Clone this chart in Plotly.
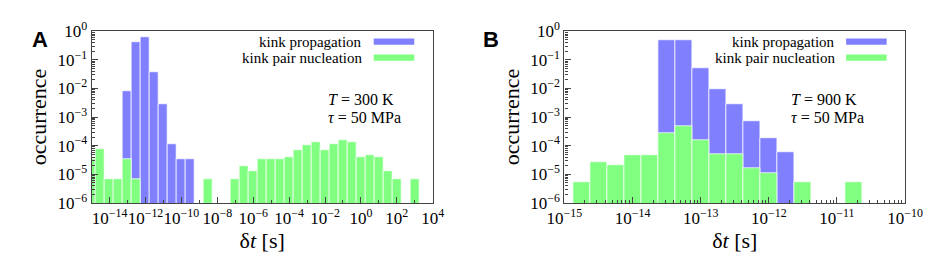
import numpy as np
import plotly.graph_objects as go
from plotly.subplots import make_subplots

# ---------------- data (bin centres given as log10(δt / s)) ----------------
A_kp_logt = [-13, -12.5, -12, -11.5, -11, -10.5, -10, -9.5]
A_kp_occ = [7.8e-3, 0.41, 0.6, 0.038, 2.9e-3, 1.1e-4, 3.3e-5, 3.3e-5]

A_kpn_logt = [-15, -14.5, -14, -13.5, -13, -12.5, -8.5, -7, -6.5, -6, -5.5, -5,
              -4.5, -4, -3.5, -3, -2.5, -2, -1.5, -1, -0.5, 0, 0.5, 1, 1.5, 2, 3]
A_kpn_occ = [3.3e-5, 7.5e-5, 6.6e-6, 6.6e-6, 3.3e-5, 6.6e-6, 6.6e-6, 6.6e-6,
             1.9e-5, 1.3e-5, 3.3e-5, 3.3e-5, 3.3e-5, 4.0e-5, 7.0e-5, 1.07e-4,
             1.3e-4, 7.0e-5, 1.1e-4, 1.5e-4, 1.3e-4, 3.9e-5, 4.6e-5, 3.9e-5,
             1.3e-5, 6.6e-6, 6.6e-6]

B_kp_logt = [-13.5, -13.25, -13, -12.75, -12.5, -12.25, -12, -11.75]
B_kp_occ = [0.5, 0.47, 0.051, 9.4e-3, 2.9e-3, 7.0e-4, 1.8e-4, 6.0e-5]

B_kpn_logt = [-14.75, -14.5, -14.25, -14, -13.75, -13.5, -13.25, -13, -12.75,
              -12.5, -12.25, -12, -11.5, -10.75]
B_kpn_occ = [5.3e-6, 2.7e-5, 2.1e-5, 4.8e-5, 4.8e-5, 2.8e-4, 4.6e-4, 1.6e-4,
             5.0e-5, 5.0e-5, 1.6e-5, 1.07e-5, 5.3e-6, 5.3e-6]

A_binwidth = 0.5
B_binwidth = 0.25

A_xticks = [-14, -12, -10, -8, -6, -4, -2, 0, 2, 4]
B_xticks = [-15, -14, -13, -12, -11, -10]
y_exponents = [0, -1, -2, -3, -4, -5, -6]

series_names = ["kink propagation", "kink pair nucleation"]
panel_notes = [("300 K", "50 MPa"), ("900 K", "50 MPa")]

# ---------------- style ----------------
BLUE = "#8080ff"
GREEN = "#80ff80"
SERIF = "Liberation Serif, Times New Roman, serif"

def sup(e):
    return "10<sup>" + ("\u2212" + str(-e) if e < 0 else str(e)) + "</sup>"

fig = make_subplots(rows=1, cols=2)

panels = [
    (A_kp_logt, A_kp_occ, A_kpn_logt, A_kpn_occ, A_binwidth),
    (B_kp_logt, B_kp_occ, B_kpn_logt, B_kpn_occ, B_binwidth),
]
for i, (kx, ky, nx, ny, w) in enumerate(panels, start=1):
    fig.add_trace(go.Bar(x=kx, y=ky, width=w, name=series_names[0],
                         marker=dict(color=BLUE, line=dict(color="rgba(255,255,255,0.7)", width=1)),
                         showlegend=False), row=1, col=i)
    fig.add_trace(go.Bar(x=nx, y=ny, width=w, name=series_names[1],
                         marker=dict(color=GREEN, line=dict(color="rgba(255,255,255,0.7)", width=1)),
                         showlegend=False), row=1, col=i)

dom_y = [1 - 200 / 257, 1 - 12.3 / 257]
domA = [68.3 / 934, 423 / 934]
domB = [560 / 934, 914.3 / 934]

axis_common = dict(showline=True, mirror=True, linecolor="#444", linewidth=1.3,
                   ticks="inside", tickcolor="#444", ticklen=6, tickwidth=1,
                   showgrid=False, zeroline=False,
                   tickfont=dict(family=SERIF, size=17, color="black"))

Bminor = [d + np.log10(k) for d in range(-15, -10) for k in range(2, 10)]
title_font = dict(family=SERIF, size=22, color="black")

fig.update_layout(
    font=dict(family=SERIF, color="black"),
    barmode="overlay",
    bargap=0,
    width=934, height=257,
    margin=dict(l=0, r=0, t=0, b=0),
    paper_bgcolor="white", plot_bgcolor="white",
    xaxis=dict(domain=domA, range=[-15, 4], tickmode="array", tickvals=A_xticks,
               ticktext=[sup(e) for e in A_xticks], tickangle=0,
               minor=dict(tickmode="linear", tick0=-15, dtick=1, ticks="inside", ticklen=3, tickcolor="#444"),
               title=dict(text="\u03b4<i>t</i> [s]", font=title_font, standoff=2),
               **axis_common),
    xaxis2=dict(domain=domB, range=[-15, -10], tickmode="array", tickvals=B_xticks,
                ticktext=[sup(e) for e in B_xticks], tickangle=0,
                minor=dict(tickmode="array", tickvals=Bminor, ticks="inside", ticklen=3, tickcolor="#444"),
                title=dict(text="\u03b4<i>t</i> [s]", font=title_font, standoff=2),
                **axis_common),
    yaxis=dict(domain=dom_y, type="log", range=[-6, 0], tickmode="array",
               tickvals=[10.0 ** e for e in y_exponents], ticktext=[sup(e) for e in y_exponents],
               minor=dict(dtick="D1", ticks="inside", ticklen=3, tickcolor="#444"),
               title=dict(text="occurrence", font=title_font, standoff=4),
               **axis_common),
    yaxis2=dict(domain=dom_y, type="log", range=[-6, 0], tickmode="array",
                tickvals=[10.0 ** e for e in y_exponents], ticktext=[sup(e) for e in y_exponents],
                minor=dict(dtick="D1", ticks="inside", ticklen=3, tickcolor="#444"),
                title=dict(text="occurrence", font=title_font, standoff=4),
                **axis_common),
)

# custom legends (text right-aligned, swatch on the right) and annotations
for i, (xr, yr) in enumerate([("x domain", "y domain"), ("x2 domain", "y2 domain")]):
    for j, (name, col) in enumerate(zip(series_names, [BLUE, GREEN])):
        yc = [0.94, 0.846][j]
        fig.add_annotation(x=0.797, y=yc, xref=xr, yref=yr, text=name, showarrow=False,
                           xanchor="right", yanchor="middle", borderpad=0,
                           font=dict(family=SERIF, size=15, color="black"))
        fig.add_shape(type="rect", xref=xr, yref=yr, x0=0.827, x1=0.946,
                      y0=yc - 0.018, y1=yc + 0.018, fillcolor=col, line=dict(width=0))
    tval, sval = panel_notes[i]
    x0 = [0.686, 0.658][i]
    fig.add_annotation(x=x0, y=0.60, xref=xr, yref=yr, text="<i>T</i> = " + tval, showarrow=False,
                       xanchor="left", yanchor="middle", font=dict(family=SERIF, size=16, color="black"))
    fig.add_annotation(x=x0, y=0.495, xref=xr, yref=yr, text="<i>\u03c4</i> = " + sval, showarrow=False,
                       xanchor="left", yanchor="middle", font=dict(family=SERIF, size=16, color="black"))

# panel letters
for letter, px in [("A", 4), ("B", 473)]:
    fig.add_annotation(x=px / 934, y=1 - 6 / 257, xref="paper", yref="paper", text="<b>" + letter + "</b>",
                       showarrow=False, xanchor="left", yanchor="top",
                       font=dict(family="Liberation Sans, Arial, sans-serif", size=22, color="black"))

fig.write_html("out.html")
